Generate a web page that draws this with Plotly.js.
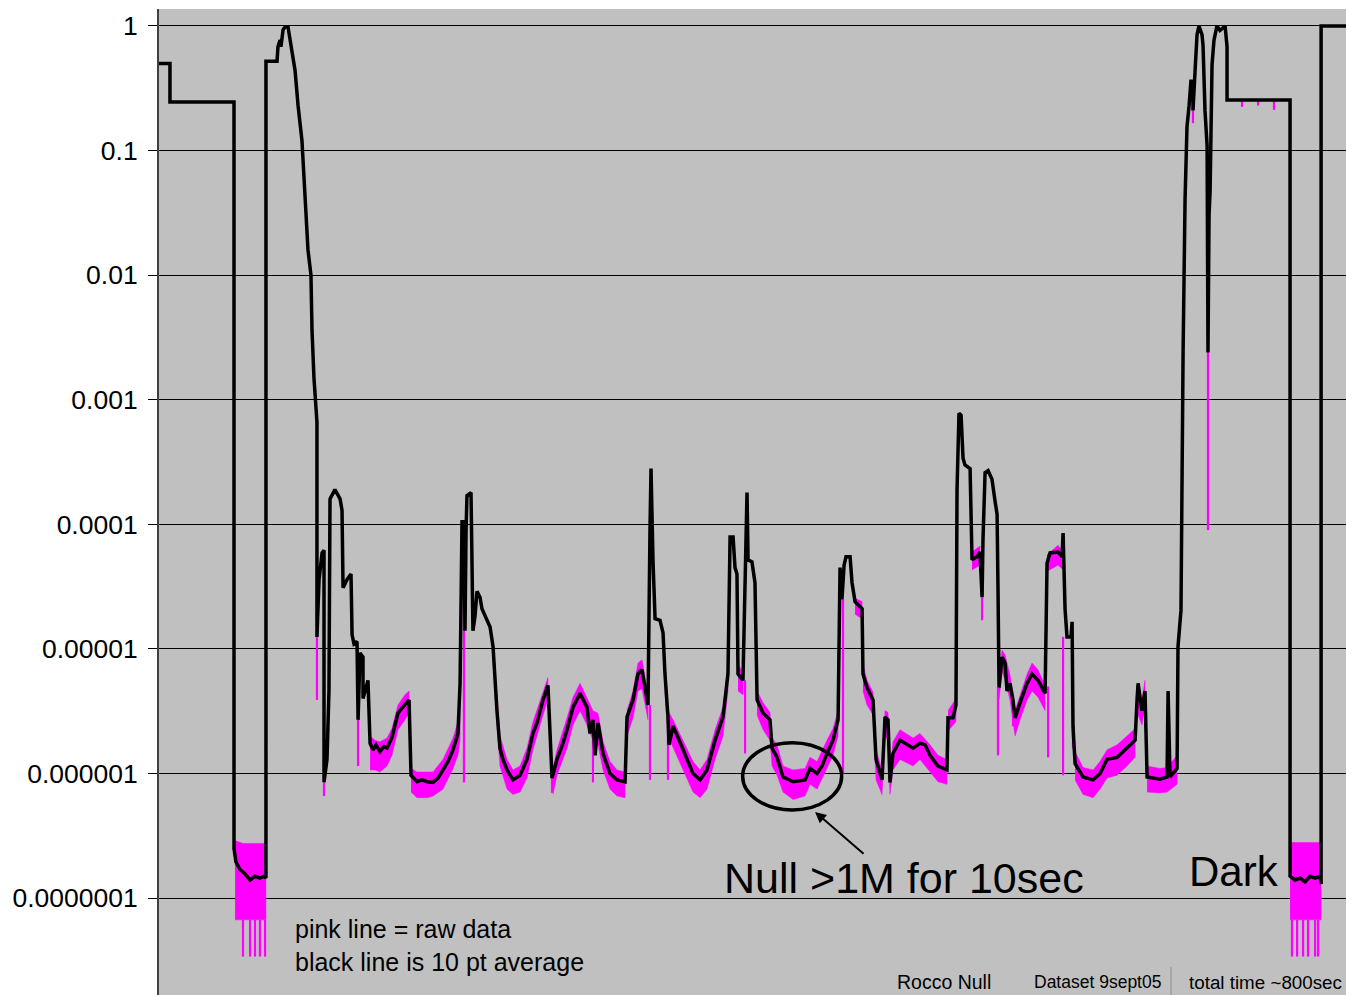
<!DOCTYPE html>
<html>
<head>
<meta charset="utf-8">
<script src="https://cdn.plot.ly/plotly-3.0.1.min.js"></script>
<style>html,body{margin:0;padding:0;background:#fff;}#chart{width:1346px;height:995px;}</style>
</head>
<body>
<div id="chart"></div>
<script>
// ---- 10 pt average (black line): time in seconds, value ----
const avgTime = [0,7.3,7.3,50,50,51.3,54,57.3,60.7,64,
67.3,70,71.3,71.3,78.7,79.3,80.7,81.3,82.7,84,
86,88.7,90.7,92.7,95.3,97.3,99.3,101.3,102,103.3,
104.7,105.3,105.3,106.7,108.7,110,110,112,113.3,114,
117.3,120.7,122,122.7,125.3,128,128.7,130,132,132.7,
134,136,136,139.3,140.7,142.7,144.7,147.3,150,152,
155.3,157.3,159.3,162,164,166.7,168,172,175.3,178.7,
182.7,186,189.3,192.7,196,199.3,200.7,202,203.3,204,
204.7,205.3,208,208.7,209.3,210.7,212,214,215.3,220.7,
222.7,225.3,227.3,229.3,232,236,240.7,245.3,249.3,252,
256,259.3,260.7,262,265.3,269.3,272,276,280.7,285.3,
287.3,289.3,290.7,292.7,296,300.7,305.3,310.7,312,316,
319.3,322,324,326,327.3,328,329.3,330.7,334,336,
337.3,339.3,340,342.7,346,349.3,352.7,356,360.7,365.3,
370.7,376,379.3,380.7,382.7,384,385.3,386,389.3,390.7,
392,392.7,395.3,397.3,398.7,402.7,407.3,408.7,412,416,
422.7,430.7,434,438.7,442,445.3,449.3,452.7,454,455.3,
456.7,458,460.7,462,464,468.7,469.3,472,476,478,
482,484,486,487.3,489.3,494,498.7,502.7,507.3,510.7,
514,519.3,525.3,526,529.3,531.3,532,533.3,534.7,536,
537.3,540.7,542,545.3,547.3,548.7,549.3,550.7,552.7,555.3,
557.3,558.7,559.3,560,562,564,565.3,567.3,569.3,570.7,
574,578.7,582,586,590.7,592,594,599.3,602,602.7,
604,605.3,608,608.7,609.3,610.7,616,622.7,627.3,632,
638.7,645.3,650.7,652,652.7,655.3,657.3,658.7,662.7,667.3,
672,672.7,674,678.7,679.3,681.3,682.7,683.3,684,684.7,
685.3,686.7,688,689.3,689.3,690.7,692,693.3,695.3,696,
697.3,698.7,699.3,700,700.7,702,703.3,705.3,707.3,710.7,
712,712,754,754,757.3,760.7,764,767.3,770.7,774,
774.7,774.7,791.3];
const avgValue = [0.5,0.5,0.245,0.245,2.5e-7,1.95e-7,1.7e-7,1.57e-7,1.4e-7,1.5e-7,
1.45e-7,1.5e-7,1.45e-7,0.52,0.52,0.68,0.77,0.68,0.93,0.98,
0.98,0.64,0.44,0.23,0.12,0.044,0.016,0.010,0.0036,0.0015,
7.5e-4,6.6e-4,1.25e-5,3.6e-5,5.9e-5,6.2e-5,8.5e-7,1.3e-6,4.6e-6,1.6e-4,
1.9e-4,1.6e-4,1.3e-4,3.1e-5,3.6e-5,4.0e-5,1.3e-5,1.1e-5,1.15e-5,2.7e-6,
9.3e-6,8.6e-6,4.0e-6,5.6e-6,1.75e-6,1.55e-6,1.7e-6,1.5e-6,1.65e-6,1.6e-6,
1.95e-6,2.45e-6,3.05e-6,3.35e-6,3.55e-6,3.9e-6,9.7e-7,8.6e-7,8.9e-7,8.6e-7,
8.5e-7,9.2e-7,1.07e-6,1.25e-6,1.55e-6,2.1e-6,5.3e-6,1.05e-4,1.05e-4,1.4e-5,
9.0e-5,1.7e-4,1.8e-4,6.6e-5,1.4e-5,1.85e-5,2.9e-5,2.6e-5,2.1e-5,1.5e-5,
1.04e-5,3.2e-6,1.6e-6,1.3e-6,1.07e-6,8.9e-7,9.7e-7,1.3e-6,2.1e-6,2.55e-6,
3.9e-6,5.1e-6,1.85e-6,9.2e-7,1.3e-6,1.75e-6,2.25e-6,3.4e-6,4.4e-6,3.4e-6,
2.1e-6,2.7e-6,1.4e-6,2.55e-6,1.45e-6,1.0e-6,8.9e-7,8.6e-7,2.85e-6,3.9e-6,
6.3e-6,6.8e-6,4.9e-6,3.55e-6,9.0e-5,2.8e-4,5.2e-5,1.75e-5,1.7e-5,1.35e-5,
6.3e-6,2.85e-6,1.7e-6,2.4e-6,1.95e-6,1.55e-6,1.25e-6,1.0e-6,8.9e-7,1.07e-6,
1.85e-6,2.85e-6,6.3e-6,7.9e-5,7.9e-5,4.5e-5,4.0e-5,6.3e-6,5.6e-6,4.7e-5,
1.8e-4,5.2e-5,5.0e-5,3.4e-5,3.9e-6,3.05e-6,2.7e-6,1.6e-6,1.35e-6,9.4e-7,
8.6e-7,8.9e-7,1.1e-6,1.0e-6,1.15e-6,1.45e-6,1.85e-6,2.7e-6,4.5e-5,2.5e-5,
4.7e-5,5.5e-5,5.5e-5,3.4e-5,2.4e-5,2.1e-5,6.3e-6,4.9e-6,3.9e-6,1.3e-6,
8.9e-7,2.85e-6,2.7e-6,8.5e-7,1.45e-6,1.85e-6,1.7e-6,1.6e-6,1.75e-6,1.7e-6,
1.4e-6,1.15e-6,1.07e-6,2.8e-6,2.8e-6,3.55e-6,1.9e-4,7.8e-4,7.5e-4,3.4e-4,
3.0e-4,2.8e-4,5.2e-5,5.5e-5,6.0e-5,2.6e-5,7.5e-5,2.6e-4,2.7e-4,2.3e-4,
1.55e-4,1.2e-4,3.1e-5,4.9e-6,8.6e-6,7.7e-6,4.6e-6,5.3e-6,3.9e-6,2.8e-6,
3.7e-6,5.3e-6,6.3e-6,5.6e-6,4.4e-6,4.9e-5,5.9e-5,6.0e-5,5.5e-5,8.5e-5,
2.1e-5,1.25e-5,1.25e-5,1.65e-5,2.4e-6,1.2e-6,9.4e-7,8.9e-7,1.0e-6,1.3e-6,
1.35e-6,1.6e-6,1.85e-6,3.9e-6,5.3e-6,3.2e-6,4.6e-6,9.4e-7,9.2e-7,9.0e-7,
9.4e-7,4.6e-6,9.4e-7,1.1e-6,1.04e-5,2.05e-5,0.0024,0.012,0.040,0.083,
0.155,0.23,0.37,0.31,0.21,0.44,0.85,1.0,0.85,0.70,
0.21,0.11,0.0024,0.03,0.047,0.49,0.77,1.0,0.92,1.0,
0.68,0.255,0.255,1.5e-7,1.4e-7,1.45e-7,1.35e-7,1.5e-7,1.45e-7,1.5e-7,
1.3e-7,1.0,1.0];

// ---- raw data (pink): noise band, segments separated by null ----
const rawBandTime = [50.7,56,71.3,null,754,774.7,null,
140.7,144,147.3,152,155.3,159.3,164,166.7,null,
168,172,178.7,182.7,189.3,196,199.3,200.7,null,
222.7,225.3,227.3,232,236,240.7,245.3,249.3,256,259.3,null,
262.7,265.3,272,276,280.7,285.3,289.3,292.7,296,300.7,305.3,310.7,null,
312,316,319.3,322,326,null,
337.3,339.3,342.7,349.3,356,360.7,365.3,370.7,376,379.3,null,
386,389.3,null,
398.7,402.7,407.3,408.7,412,416,422.7,430.7,434,438.7,445.3,449.3,452.7,null,
464,468.7,null,
469.3,472,476,478,482,484,486,487.3,489.3,494,502.7,507.3,514,519.3,525.3,null,
526,531.3,null,
542,547.3,null,
560,562,564,567.3,570.7,574,578.7,582,586,590.7,null,
592,599.3,602,null,
610.7,616,622.7,627.3,632,638.7,645.3,650.7,null,
652,655.3,657.3,null,
658.7,667.3,672,678.7,null,
679.3,681.3];
const rawBandHigh = [2.9e-7,2.75e-7,2.75e-7,null,2.8e-7,2.8e-7,null,
2.0e-6,1.85e-6,1.8e-6,1.93e-6,2.3e-6,3.55e-6,4.3e-6,4.6e-6,null,
1.1e-6,1.03e-6,1.03e-6,1.03e-6,1.3e-6,1.93e-6,2.6e-6,3.9e-6,null,
1.2e-5,3.9e-6,2.0e-6,1.3e-6,1.07e-6,1.15e-6,1.6e-6,2.6e-6,4.6e-6,5.9e-6,null,
1.1e-6,1.55e-6,2.8e-6,4.1e-6,5.3e-6,4.1e-6,3.2e-6,3.05e-6,1.8e-6,1.25e-6,1.07e-6,1.03e-6,null,
3.2e-6,4.6e-6,7.7e-6,8.2e-6,4.3e-6,null,
7.5e-6,3.2e-6,2.7e-6,1.85e-6,1.25e-6,1.07e-6,1.3e-6,2.25e-6,3.4e-6,7.5e-6,null,
7.5e-6,6.5e-6,null,
4.6e-6,3.7e-6,3.1e-6,1.93e-6,1.7e-6,1.15e-6,1.07e-6,1.1e-6,1.35e-6,1.25e-6,1.85e-6,2.3e-6,3.2e-6,null,
2.55e-5,2.4e-5,null,
7.5e-6,5.6e-6,4.5e-6,1.55e-6,1.07e-6,3.2e-6,3.1e-6,1.03e-6,1.8e-6,2.25e-6,1.93e-6,2.1e-6,1.7e-6,1.4e-6,1.3e-6,null,
3.2e-6,4.0e-6,null,
6.0e-5,6.7e-5,null,
6.0e-6,9.8e-6,9.0e-6,6.2e-6,3.2e-6,4.3e-6,6.3e-6,7.7e-6,6.8e-6,5.1e-6,null,
5.7e-5,6.8e-5,6.2e-5,null,
1.5e-6,1.12e-6,1.07e-6,1.25e-6,1.55e-6,1.7e-6,2.0e-6,2.3e-6,null,
4.6e-6,3.9e-6,5.6e-6,null,
1.15e-6,1.1e-6,1.12e-6,1.4e-6,null,
1.2e-5,2.2e-5];
const rawBandLow = [6.7e-8,6.7e-8,6.7e-8,null,6.7e-8,6.7e-8,null,
1.07e-6,1.07e-6,1.03e-6,1.15e-6,1.4e-6,2.25e-6,2.7e-6,3.1e-6,null,
7.1e-7,6.4e-7,6.4e-7,6.6e-7,7.5e-7,1.1e-6,1.4e-6,1.85e-6,null,
8.2e-6,2.45e-6,1.15e-6,7.5e-7,6.8e-7,7.1e-7,9.2e-7,1.55e-6,2.95e-6,3.9e-6,null,
6.8e-7,9.7e-7,1.6e-6,2.45e-6,3.2e-6,2.45e-6,1.85e-6,1.7e-6,1.07e-6,7.5e-7,6.6e-7,6.4e-7,null,
2.0e-6,2.8e-6,4.6e-6,4.8e-6,2.7e-6,null,
4.6e-6,2.0e-6,1.6e-6,1.07e-6,7.1e-7,6.4e-7,7.5e-7,1.3e-6,2.0e-6,4.6e-6,null,
4.6e-6,4.3e-6,null,
2.95e-6,2.25e-6,1.85e-6,1.15e-6,9.7e-7,7.1e-7,6.2e-7,6.6e-7,8.2e-7,7.5e-7,1.1e-6,1.4e-6,2.0e-6,null,
1.9e-5,1.75e-5,null,
4.6e-6,3.55e-6,2.95e-6,8.9e-7,6.8e-7,2.0e-6,1.85e-6,6.8e-7,1.07e-6,1.3e-6,1.15e-6,1.3e-6,1.03e-6,8.6e-7,8.2e-7,null,
2.2e-6,2.6e-6,null,
4.3e-5,4.7e-5,null,
3.9e-6,6.5e-6,5.7e-6,3.9e-6,2.0e-6,2.7e-6,3.9e-6,4.6e-6,4.1e-6,3.2e-6,null,
4.2e-5,4.7e-5,4.4e-5,null,
8.9e-7,6.8e-7,6.4e-7,7.5e-7,9.2e-7,9.7e-7,1.15e-6,1.35e-6,null,
3.1e-6,2.45e-6,3.55e-6,null,
7.1e-7,7.0e-7,7.1e-7,8.2e-7,null,
8.2e-6,1.75e-5];

// ---- raw data (pink): isolated spikes ----
const rawSpikeTime = [105.3,110,132.7,203.3,262,289.3,327.3,339.3,390.7,456,
548.7,559.3,569.3,592.7,602.7,609.3,699.3,689.3,722,732.7,743.3,
56,60.7,64,67.3,70.7,755.3,758.7,762.7,766,770.7,772.7];
const rawSpikeTop = [1.25e-5,8.5e-7,2.7e-6,5.2e-5,9.2e-7,2.7e-6,3.55e-6,2.85e-6,5.6e-6,2.5e-5,
2.6e-5,4.9e-6,3.9e-6,5.0e-6,1.25e-5,2.4e-6,0.0024,0.21,0.255,0.255,0.255,
6.7e-8,6.7e-8,6.7e-8,6.7e-8,6.7e-8,6.7e-8,6.7e-8,6.7e-8,6.7e-8,6.7e-8,6.7e-8];
const rawSpikeBottom = [3.9e-6,6.6e-7,1.15e-6,8.5e-7,7.0e-7,8.5e-7,8.9e-7,8.9e-7,1.45e-6,1.0e-6,
1.7e-5,1.4e-6,2.4e-6,1.35e-6,9.7e-7,1.6e-6,9.0e-5,0.166,0.224,0.23,0.212,
3.4e-8,3.4e-8,3.4e-8,3.4e-8,3.4e-8,3.4e-8,3.4e-8,3.4e-8,3.4e-8,3.4e-8,3.4e-8];

// ---- axis ticks ----
const tickValues = [1e-7,1e-6,1e-5,1e-4,1e-3,1e-2,1e-1,1];
const tickLabels = ['0.0000001','0.000001','0.00001','0.0001','0.001','0.01','0.1','1'];

const PINK = '#ff00ff';
const traces = [];

// band polygons, one trace per segment
let segT = [], segH = [], segL = [];
function flushSeg() {
  if (segT.length > 1) {
    const xs = segT.concat(segT.slice().reverse());
    const ys = segH.concat(segL.slice().reverse());
    traces.push({x: xs, y: ys, type: 'scatter', mode: 'lines', fill: 'toself',
      fillcolor: PINK, line: {width: 0.5, color: PINK}, hoverinfo: 'skip'});
  }
  segT = []; segH = []; segL = [];
}
for (let i = 0; i < rawBandTime.length; i++) {
  if (rawBandTime[i] === null) { flushSeg(); continue; }
  segT.push(rawBandTime[i]); segH.push(rawBandHigh[i]); segL.push(rawBandLow[i]);
}
flushSeg();

// spikes
const sx = [], sy = [];
for (let i = 0; i < rawSpikeTime.length; i++) {
  sx.push(rawSpikeTime[i], rawSpikeTime[i], null);
  sy.push(rawSpikeTop[i], rawSpikeBottom[i], null);
}
traces.push({x: sx, y: sy, type: 'scatter', mode: 'lines',
  line: {color: PINK, width: 2.2}, connectgaps: false, hoverinfo: 'skip'});

// black average line
traces.push({x: avgTime, y: avgValue, type: 'scatter', mode: 'lines',
  line: {color: '#000000', width: 3.5}, hoverinfo: 'skip'});

const FONT = 'Liberation Sans, Arial, Helvetica, sans-serif';
const layout = {
  width: 1346, height: 995,
  margin: {l: 159, r: 0, t: 9, b: 0, pad: 0},
  paper_bgcolor: '#ffffff',
  plot_bgcolor: '#c0c0c0',
  showlegend: false,
  xaxis: {range: [0, 791.3], visible: false, fixedrange: true},
  yaxis: {
    type: 'log', range: [-7.777, 0.136],
    tickmode: 'array', tickvals: tickValues, ticktext: tickLabels,
    ticks: 'outside', ticklen: 9, tickwidth: 1, tickcolor: '#000',
    showgrid: true, gridcolor: '#000000', gridwidth: 1,
    showline: true, linecolor: '#404040', linewidth: 2,
    zeroline: false, ticklabelstandoff: 5,
    tickfont: {family: FONT, size: 26.5, color: '#000'}
  },
  shapes: [
    {type: 'circle', xref: 'paper', yref: 'paper',
     x0: 0.4917, x1: 0.5751, y0: 0.1876, y1: 0.2559,
     line: {color: '#000', width: 3.5}},
    {type: 'line', xref: 'paper', yref: 'paper',
     x0: 0.8526, x1: 0.8526, y0: 0, y1: 0.0284,
     line: {color: '#8c8c8c', width: 1}}
  ],
  annotations: [
    {xref: 'paper', yref: 'paper', x: 0.5527, y: 0.1856, text: '',
     showarrow: true, ax: 50, ay: 43, arrowhead: 2, arrowsize: 1.1,
     arrowwidth: 2, arrowcolor: '#000'},
    {xref: 'paper', yref: 'paper', x: 0.4743, y: 0.1187, xanchor: 'left', yanchor: 'middle',
     text: 'Null &gt;1M for 10sec', showarrow: false,
     font: {family: FONT, size: 43, color: '#000'}},
    {xref: 'paper', yref: 'paper', x: 0.8661, y: 0.1254, xanchor: 'left', yanchor: 'middle',
     text: 'Dark', showarrow: false,
     font: {family: FONT, size: 42, color: '#000'}},
    {xref: 'paper', yref: 'paper', x: 0.1129, y: 0.0502, xanchor: 'left', yanchor: 'middle',
     align: 'left', text: 'pink line = raw data<br>black line is 10 pt average', showarrow: false,
     font: {family: FONT, size: 25, color: '#000'}},
    {xref: 'paper', yref: 'paper', x: 0.6201, y: 0.0128, xanchor: 'left', yanchor: 'middle',
     text: 'Rocco Null', showarrow: false,
     font: {family: FONT, size: 19.5, color: '#000'}},
    {xref: 'paper', yref: 'paper', x: 0.7355, y: 0.0128, xanchor: 'left', yanchor: 'middle',
     text: 'Dataset 9sept05', showarrow: false,
     font: {family: FONT, size: 17.5, color: '#000'}},
    {xref: 'paper', yref: 'paper', x: 0.8660, y: 0.0128, xanchor: 'left', yanchor: 'middle',
     text: 'total time ~800sec', showarrow: false,
     font: {family: FONT, size: 18.8, color: '#000'}}
  ]
};

Plotly.newPlot('chart', traces, layout, {displayModeBar: false, staticPlot: true});
</script>
</body>
</html>
